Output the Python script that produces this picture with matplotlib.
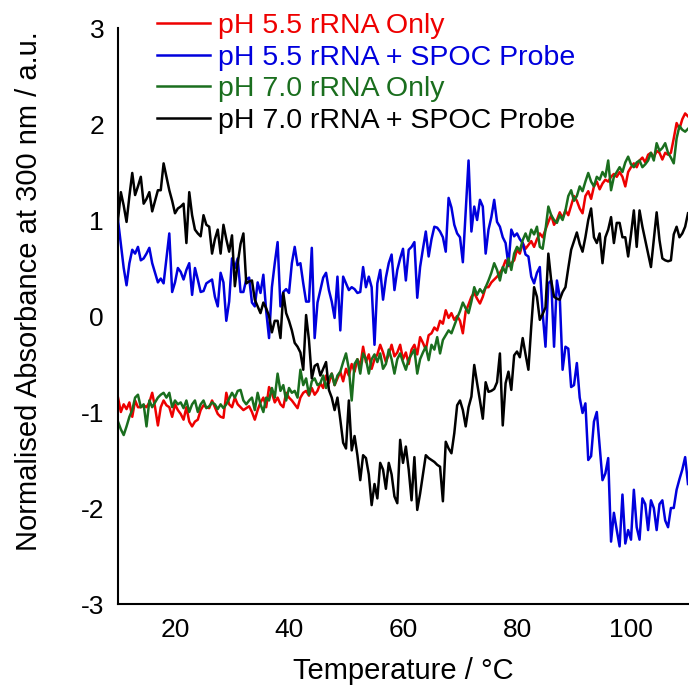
import numpy as np
import matplotlib
matplotlib.use('Agg')
import matplotlib.pyplot as plt

plt.rcParams['font.family'] = ['Liberation Sans', 'DejaVu Sans']
plt.rcParams['axes.unicode_minus'] = False

# temperature grid of the melt scan, 0.5 degC steps
temperature = np.arange(10, 110.5, 0.5)

# normalised absorbance at 300 nm
ph55_rrna = [
    -0.85, -1.00, -0.92, -0.97, -0.90, -1.05, -0.88, -0.95, -0.95, -0.93,
    -0.95, -0.90, -0.80, -0.95, -1.14, -0.95, -0.88, -0.93, -0.95, -1.05,
    -0.92, -0.98, -1.02, -1.08, -0.95, -1.10, -1.15, -1.10, -1.08, -0.98,
    -0.93, -0.95, -0.96, -0.88, -0.95, -1.02, -1.05, -1.06, -0.80, -0.92,
    -0.95, -0.85, -0.92, -0.95, -0.98, -0.96, -0.94, -1.00, -1.08, -0.98,
    -0.90, -0.85, -0.95, -0.74, -0.80, -0.90, -0.85, -0.92, -0.95, -0.80,
    -0.85, -0.88, -0.92, -0.96, -0.85, -0.80, -0.78, -0.83, -0.75, -0.82,
    -0.78, -0.70, -0.75, -0.62, -0.70, -0.60, -0.72, -0.65, -0.58, -0.68,
    -0.55, -0.62, -0.50, -0.58, -0.45, -0.52, -0.32, -0.48, -0.40, -0.55,
    -0.45, -0.40, -0.30, -0.38, -0.48, -0.40, -0.30, -0.42, -0.38, -0.30,
    -0.45, -0.38, -0.50, -0.35, -0.30, -0.40, -0.22, -0.28, -0.35, -0.20,
    -0.18, -0.12, -0.15, -0.05, -0.08, 0.06, -0.02, 0.03, -0.04, 0.00,
    -0.05, -0.18, 0.05, 0.12, 0.20, 0.24, 0.18, 0.13, 0.20, 0.30,
    0.30, 0.35, 0.38, 0.41, 0.45, 0.50, 0.58, 0.52, 0.55, 0.58,
    0.69, 0.65, 0.76, 0.70, 0.74, 0.78, 0.72, 0.80, 0.86, 0.82,
    0.90, 0.98, 1.05, 0.95, 1.00, 1.08, 1.02, 1.10, 1.05, 1.15,
    1.25, 1.20, 1.12, 1.07, 1.25, 1.30, 1.22, 1.35, 1.40, 1.32,
    1.38, 1.42, 1.40, 1.45, 1.48, 1.45, 1.50, 1.45, 1.35, 1.50,
    1.55, 1.59, 1.55, 1.62, 1.65, 1.60, 1.68, 1.70, 1.65, 1.72,
    1.70, 1.63, 1.70, 1.68, 1.70, 1.85, 2.01, 1.95, 2.05, 2.11,
    2.08,
]

ph55_spoc = [
    1.00, 0.75, 0.50, 0.32, 0.55, 0.69, 0.65, 0.72, 0.58, 0.60,
    0.65, 0.71, 0.55, 0.45, 0.35, 0.39, 0.34, 0.60, 0.86, 0.25,
    0.35, 0.50, 0.46, 0.38, 0.48, 0.55, 0.22, 0.50, 0.38, 0.25,
    0.26, 0.34, 0.36, 0.38, 0.20, 0.10, 0.45, 0.35, -0.05, 0.15,
    0.60, 0.50, 0.60, 0.25, 0.25, 0.38, 0.40, 0.14, 0.10, 0.35,
    0.24, 0.43, 0.05, -0.23, 0.30, 0.55, 0.77, 0.10, 0.25, 0.28,
    0.24, 0.55, 0.72, 0.53, 0.55, 0.34, 0.15, 0.15, 0.71, -0.23,
    0.14, 0.27, 0.40, 0.45, 0.27, 0.15, -0.02, 0.41, -0.15, 0.41,
    0.34, 0.27, 0.30, 0.28, 0.24, 0.25, 0.51, 0.30, 0.41, 0.30,
    -0.30, 0.34, 0.48, 0.17, 0.40, 0.55, 0.64, 0.27, 0.48, 0.60,
    0.70, 0.37, 0.69, 0.72, 0.77, 0.19, 0.51, 0.70, 0.88, 0.62,
    0.80, 0.93, 0.92, 0.88, 0.82, 0.67, 1.23, 1.13, 0.95, 0.86,
    0.82, 0.56, 1.10, 1.62, 0.88, 1.14, 1.00, 1.21, 1.14, 0.65,
    0.90, 1.03, 1.21, 0.98, 0.93, 0.82, 0.76, 0.53, 0.90, 0.83,
    0.86, 0.80, 0.76, 0.64, 0.62, 0.41, 0.34, 0.45, 0.51, 0.03,
    -0.32, 0.34, 0.37, -0.32, 0.37, 0.20, -0.56, -0.32, -0.34, -0.74,
    -0.72, -0.49, -0.85, -1.01, -0.91, -1.50, -1.46, -1.10, -1.00, -1.36,
    -1.71, -1.64, -1.48, -2.35, -2.05, -2.23, -2.40, -1.86, -2.37, -2.23,
    -2.33, -1.81, -2.20, -2.33, -1.90, -1.96, -2.23, -1.92, -2.00, -2.23,
    -1.96, -1.92, -2.13, -2.20, -2.00, -2.00, -1.81, -1.70, -1.60, -1.47,
    -1.75,
]

ph70_rrna = [
    -1.10, -1.18, -1.24, -1.15, -1.05, -0.98, -0.85, -0.82, -0.95, -0.92,
    -1.15, -0.88, -0.95, -0.90, -0.85, -0.82, -0.80, -0.85, -0.80, -0.95,
    -0.88, -0.92, -0.90, -0.96, -0.88, -1.00, -0.92, -0.88, -1.00, -0.92,
    -0.88, -0.96, -0.94, -0.90, -0.92, -0.97, -0.92, -0.96, -0.92, -0.86,
    -0.80, -0.85, -0.78, -0.77, -0.88, -0.92, -0.88, -0.85, -0.98, -0.80,
    -0.92, -1.00, -0.85, -0.88, -0.75, -0.85, -0.60, -0.78, -0.72, -0.88,
    -0.75, -0.80, -0.78, -0.85, -0.56, -0.72, -0.65, -0.82, -0.68, -0.65,
    -0.72, -0.70, -0.62, -0.75, -0.65, -0.60, -0.72, -0.62, -0.58, -0.48,
    -0.39, -0.55, -0.88, -0.50, -0.45, -0.60, -0.39, -0.45, -0.60, -0.45,
    -0.40, -0.48, -0.39, -0.55, -0.50, -0.35, -0.45, -0.60, -0.45, -0.39,
    -0.48, -0.56, -0.45, -0.40, -0.35, -0.60, -0.45, -0.38, -0.32, -0.46,
    -0.30, -0.35, -0.22, -0.39, -0.25, -0.20, -0.15, -0.18, -0.10, -0.02,
    0.05, 0.14, 0.08, 0.03, 0.15, 0.30, 0.22, 0.28, 0.24, 0.30,
    0.37, 0.45, 0.55, 0.48, 0.37, 0.51, 0.45, 0.60, 0.48, 0.65,
    0.72, 0.68, 0.79, 0.86, 0.78, 0.90, 0.85, 0.93, 0.72, 0.70,
    0.90, 1.14, 1.05, 1.00, 0.97, 1.05, 1.00, 1.10, 1.25, 1.31,
    1.20, 1.25, 1.35, 1.30, 1.40, 1.49, 1.40, 1.35, 1.45, 1.42,
    1.50, 1.45, 1.62, 1.31, 1.45, 1.50, 1.55, 1.50, 1.60, 1.66,
    1.58, 1.55, 1.60, 1.62, 1.55, 1.58, 1.62, 1.70, 1.62, 1.80,
    1.72, 1.75, 1.80, 1.70, 1.65, 1.59, 1.85, 1.98, 1.94, 1.92,
    1.95,
]

ph70_spoc = [
    1.00, 1.29, 1.15, 0.98, 1.25, 1.49, 1.26, 1.35, 1.45, 1.17,
    1.22, 1.29, 1.09, 1.20, 1.31, 1.31, 1.59, 1.45, 1.31, 1.20,
    1.07, 1.12, 1.14, 1.17, 0.76, 1.29, 1.05, 0.90, 0.86, 0.83,
    1.05, 0.95, 0.93, 0.65, 0.80, 0.90, 0.65, 0.95, 0.80, 0.67,
    0.84, 0.31, 0.55, 0.75, 0.86, 0.34, 0.36, 0.37, 0.17, 0.10,
    0.03, 0.14, 0.08, 0.00, -0.17, -0.05, -0.05, -0.23, 0.24, 0.03,
    -0.05, -0.15, -0.28, -0.32, -0.38, -0.56, 0.01, -0.25, -0.65, -0.52,
    -0.50, -0.62, -0.55, -0.48, -0.77, -0.85, -0.98, -0.85, -1.08, -1.32,
    -1.38, -0.88, -1.40, -1.25, -1.45, -1.71, -1.45, -1.48, -1.65, -1.97,
    -1.75, -1.90, -1.53, -1.60, -1.80, -1.53, -1.65, -1.88, -1.95, -1.29,
    -1.53, -1.36, -1.60, -1.92, -1.47, -2.02, -1.85, -1.65, -1.45, -1.48,
    -1.50, -1.52, -1.55, -1.57, -1.93, -1.31, -1.38, -1.43, -1.22, -0.93,
    -0.88, -0.98, -1.15, -0.95, -0.84, -0.51, -0.70, -0.88, -1.07, -0.69,
    -0.79, -0.78, -0.76, -0.69, -0.39, -1.14, -0.70, -0.58, -0.77, -0.41,
    -0.37, -0.43, -0.23, -0.40, -0.56, -0.11, 0.30, 0.20, -0.04, 0.02,
    0.09, 0.65, 0.37, 0.20, 0.18, 0.17, 0.25, 0.30, 0.50, 0.69,
    0.78, 0.87, 0.75, 0.67, 0.82, 1.00, 1.12, 0.82, 0.76, 0.86,
    0.55, 0.82, 0.90, 1.03, 0.76, 0.97, 0.97, 0.82, 0.82, 0.62,
    0.85, 1.10, 0.72, 1.10, 0.93, 0.79, 0.65, 0.51, 0.79, 1.08,
    0.79, 0.60, 0.58, 0.57, 0.58, 0.85, 0.93, 0.82, 0.86, 0.93,
    1.07,
]

series_labels = ['pH 5.5 rRNA Only', 'pH 5.5 rRNA + SPOC Probe',
                 'pH 7.0 rRNA Only', 'pH 7.0 rRNA + SPOC Probe']
series_colors = ['#ee0000', '#0000dd', '#1a6e1e', '#000000']
x_ticks = [20, 40, 60, 80, 100]
y_ticks = [-3, -2, -1, 0, 1, 2, 3]

fig = plt.figure(figsize=(6.89, 6.88), dpi=100)
ax = fig.add_axes([118 / 689, 84 / 688, 570 / 689, 576 / 688])

for values, label, color in zip([ph55_rrna, ph55_spoc, ph70_rrna, ph70_spoc],
                                series_labels, series_colors):
    ax.plot(temperature, values, color=color, lw=1.8, label=label)

ax.set_xlim(10, 110)
ax.set_ylim(-3, 3)
ax.set_xticks(x_ticks)
ax.set_yticks(y_ticks)
ax.tick_params(length=0, pad=10, labelsize=19)

for side in ['top', 'right']:
    ax.spines[side].set_visible(False)
for side in ['left', 'bottom']:
    ax.spines[side].set_linewidth(1.5)

ax.set_xlabel('Temperature / °C', fontsize=21)
ax.set_ylabel('Normalised Absorbance at 300 nm / a.u.', fontsize=21)
ax.xaxis.set_label_coords(0.5, -0.092)
ax.yaxis.set_label_coords(-0.132, 0.543)

ax.legend(loc='upper left', bbox_to_anchor=(157 / 689, 1 - 13 / 688),
          bbox_transform=fig.transFigure, frameon=False, fontsize=20.5,
          handlelength=1.86, handletextpad=0.28, labelspacing=0.2,
          borderpad=0, borderaxespad=0, labelcolor='linecolor')

fig.savefig('out.png', dpi=100)
